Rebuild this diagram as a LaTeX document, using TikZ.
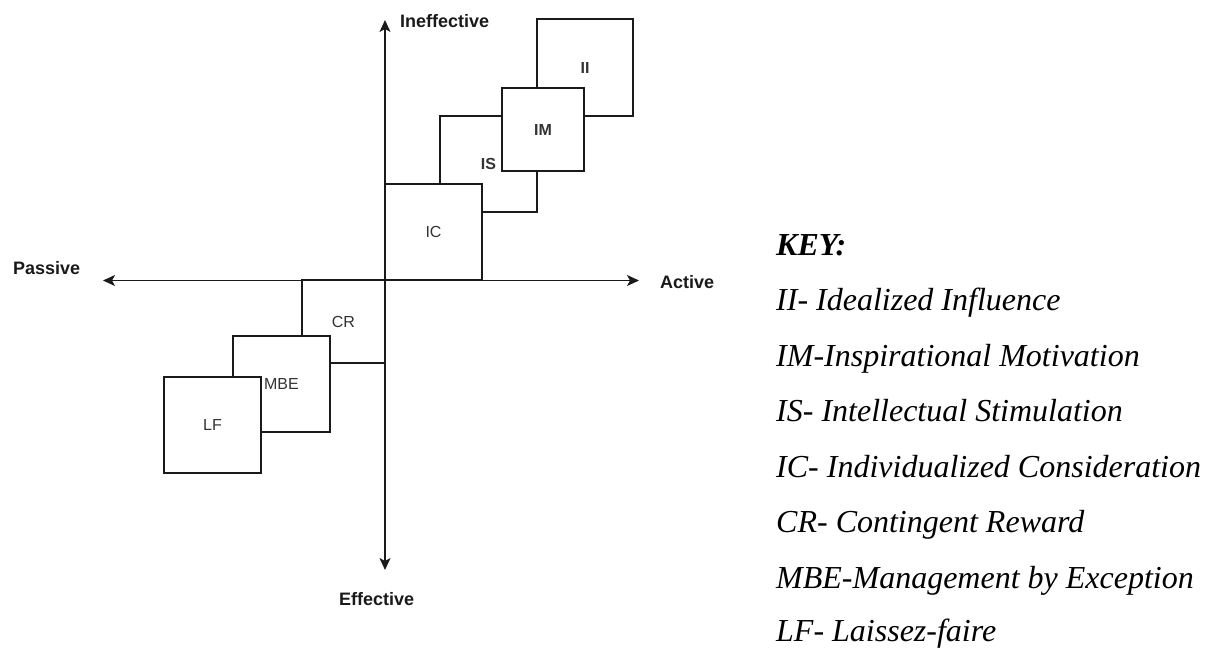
\documentclass[tikz,border=0pt]{standalone}
\usepackage{fontspec}
\setmainfont{Liberation Serif}
\setsansfont{Liberation Sans}
\usetikzlibrary{arrows.meta}
\definecolor{ink}{HTML}{1A1A1A}
\definecolor{labelgrey}{HTML}{333333}

\begin{document}
\begin{tikzpicture}[x=1pt,y=-1pt,
  box/.style={draw=ink, line width=1.3pt, fill=white, inner sep=0pt,
              font=\sffamily\fontsize{16}{19}\selectfont, text=labelgrey},
  boldbox/.style={box, font=\sffamily\bfseries\fontsize{16}{19}\selectfont},
  tip/.tip={Stealth[length=12pt,width=11pt,inset=3pt]},
  axis/.style={draw=ink, line width=1.3pt, tip-tip},
  axislabel/.style={anchor=base west, inner sep=0pt,
                    font=\sffamily\bfseries\fontsize{18}{21}\selectfont, text=ink},
  keytext/.style={anchor=base west, inner sep=0pt,
                  font=\itshape\fontsize{32}{38}\selectfont, text=black}
]
\useasboundingbox (0,0) rectangle (1211,648);

% upper-right group (active side)
\node[boldbox, minimum width=96pt, minimum height=97pt] (II) at (585,67.5) {II};
\node[boldbox, minimum width=97pt, minimum height=96pt] (IS) at (488.5,164) {IS};
\node[boldbox, minimum width=82pt, minimum height=83pt] (IM) at (543,129.5) {IM};
\node[box, minimum width=97pt, minimum height=96pt] (IC) at (433.5,232) {IC};

% lower-left group (passive side)
\node[box, minimum width=83pt, minimum height=83pt] (CR) at (343.5,321.5) {CR};
\node[box, minimum width=97pt, minimum height=96pt] (MBE) at (281.5,384) {MBE};
\node[box, minimum width=97pt, minimum height=96pt] (LF) at (212.5,425) {LF};

% axes
\coordinate (top) at (385,20);
\coordinate (bottom) at (385,570);
\coordinate (left) at (103,280.5);
\coordinate (right) at (639,280.5);
\draw[axis] (bottom) -- (top);
\draw[axis] (left) -- (right);

\node[axislabel] (ineff) at (400,27) {Ineffective};
\node[axislabel] (eff) at (339,605) {Effective};
\node[axislabel] (passive) at (13,274) {Passive};
\node[axislabel] (active) at (660,288) {Active};

% key
\node[keytext, font=\bfseries\itshape\fontsize{32}{38}\selectfont] (key) at (776,255) {KEY:};
\node[keytext] (k1) at (776,310.5) {II- Idealized Influence};
\node[keytext] (k2) at (776,366) {IM-Inspirational Motivation};
\node[keytext] (k3) at (776,421.5) {IS- Intellectual Stimulation};
\node[keytext] (k4) at (776,477) {IC- Individualized Consideration};
\node[keytext] (k5) at (776,532.5) {CR- Contingent Reward};
\node[keytext] (k6) at (776,588) {MBE-Management by Exception};
\node[keytext] (k7) at (776,641) {LF- Laissez-faire};
\end{tikzpicture}
\end{document}
